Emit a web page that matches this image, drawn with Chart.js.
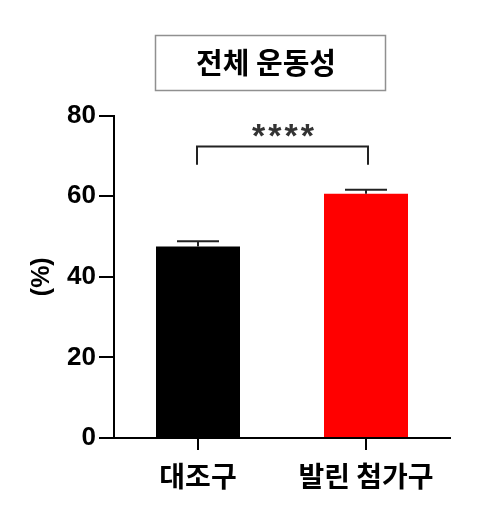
<!DOCTYPE html>
<html>
<head>
<meta charset="utf-8">
<script src="https://cdn.jsdelivr.net/npm/chart.js@4/dist/chart.umd.min.js"></script>
<style>
html,body{margin:0;padding:0;background:#fff;}
#wrap{width:482px;height:523px;position:relative;}
</style>
</head>
<body>
<div id="wrap"><canvas id="c" width="482" height="523"></canvas></div>
<script>
const categories = ['대조구', '발린 첨가구'];
const means = [47.5, 60.6];
const sems = [1.3, 1.0];
const barColors = ['#000000', '#ff0000'];
const yTicks = [0, 20, 40, 60, 80];
const chartTitle = '전체 운동성';
const yLabel = '(%)';
const significance = '****';

const FONT = '"Liberation Sans", Arial, "Noto Sans CJK KR", sans-serif';
const KFONT = '"Noto Sans CJK KR", "Liberation Sans", sans-serif';

const overlay = {
  id: 'overlay',
  afterDatasetsDraw(chart) {
    const ctx = chart.ctx;
    const xs = chart.scales.x, ys = chart.scales.y;
    ctx.save();
    // error bars
    ctx.strokeStyle = '#222';
    ctx.lineWidth = 2;
    means.forEach((m, i) => {
      const x = xs.getPixelForValue(i);
      const yTop = ys.getPixelForValue(m + sems[i]);
      const yMid = ys.getPixelForValue(m);
      ctx.beginPath();
      ctx.moveTo(x, yMid);
      ctx.lineTo(x, yTop);
      ctx.moveTo(x - 21, yTop);
      ctx.lineTo(x + 21, yTop);
      ctx.stroke();
    });
    // significance bracket
    const x0 = xs.getPixelForValue(0) - 1, x1 = xs.getPixelForValue(1) + 2;
    const yb = ys.getPixelForValue(72.3), ye = ys.getPixelForValue(67.8);
    ctx.strokeStyle = '#222';
    ctx.lineWidth = 2;
    ctx.beginPath();
    ctx.moveTo(x0, ye); ctx.lineTo(x0, yb); ctx.lineTo(x1, yb); ctx.lineTo(x1, ye);
    ctx.stroke();
    ctx.fillStyle = '#333';
    ctx.font = 'bold 34px ' + FONT;
    ctx.textAlign = 'center';
    ctx.textBaseline = 'middle';
    try { ctx.letterSpacing = '3px'; } catch (e) {}
    ctx.fillText(significance, (x0 + x1) / 2 + 2, yb - 9);
    try { ctx.letterSpacing = '0px'; } catch (e) {}
    // title box
    ctx.strokeStyle = '#909090';
    ctx.lineWidth = 1.5;
    ctx.strokeRect(155.5, 35.5, 230, 55);
    ctx.fillStyle = '#000';
    ctx.font = 'bold 29px ' + KFONT;
    ctx.fillText(chartTitle, 266, 63);
    ctx.restore();
  }
};

new Chart(document.getElementById('c'), {
  type: 'bar',
  data: {
    labels: categories,
    datasets: [{
      data: means,
      backgroundColor: barColors,
      borderWidth: 0,
      barPercentage: 0.5,
      categoryPercentage: 1.0
    }]
  },
  options: {
    responsive: false,
    animation: false,
    layout: { padding: { top: 115.5, left: 0, right: 32, bottom: 0 } },
    plugins: { legend: { display: false }, tooltip: { enabled: false }, title: { display: false } },
    scales: {
      x: {
        offset: true,
        grid: { offset: false, drawOnChartArea: false, drawTicks: true, tickLength: 12, color: '#000', lineWidth: 2 },
        border: { color: '#000', width: 2 },
        ticks: { color: '#000', font: { family: KFONT, size: 28, weight: 'bold' }, padding: 10, maxRotation: 0 },
        afterFit(s) { s.height = 85; }
      },
      y: {
        min: 0, max: 80,
        afterBuildTicks(s) { s.ticks = yTicks.map(v => ({ value: v })); },
        grid: { drawOnChartArea: false, drawTicks: true, tickLength: 15, color: '#000', lineWidth: 2 },
        border: { color: '#000', width: 2 },
        ticks: { color: '#000', font: { family: FONT, size: 26, weight: 'bold' }, padding: 3 },
        title: { display: true, text: yLabel, color: '#000', font: { family: FONT, size: 25, weight: 'bold' }, padding: { top: 27, bottom: 0 } },
        afterFit(s) { s.width = 114; }
      }
    }
  },
  plugins: [overlay]
});
</script>
</body>
</html>
